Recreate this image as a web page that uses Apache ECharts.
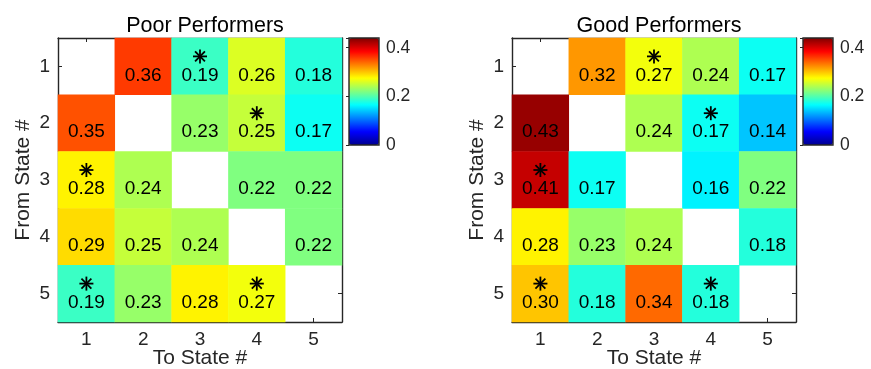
<!DOCTYPE html>
<html>
<head>
<meta charset="utf-8">
<script src="https://cdn.jsdelivr.net/npm/echarts@6/dist/echarts.min.js"></script>
<style>
  html, body { margin: 0; padding: 0; background: #fff; }
  #chart { width: 871px; height: 369px; }
</style>
</head>
<body>
<div id="chart"></div>
<script>
// Transition probabilities between states (rows: from, columns: to). Diagonal is empty.
const states = ['1', '2', '3', '4', '5'];
const poorValues = [
  [null, 0.36, 0.19, 0.26, 0.18],
  [0.35, null, 0.23, 0.25, 0.17],
  [0.28, 0.24, null, 0.22, 0.22],
  [0.29, 0.25, 0.24, null, 0.22],
  [0.19, 0.23, 0.28, 0.27, null]
];
const goodValues = [
  [null, 0.32, 0.27, 0.24, 0.17],
  [0.43, null, 0.24, 0.17, 0.14],
  [0.41, 0.17, null, 0.16, 0.22],
  [0.28, 0.23, 0.24, null, 0.18],
  [0.30, 0.18, 0.34, 0.18, null]
];
// Significant transitions marked with an asterisk: [from, to] (1-based)
const poorStars = [[1, 3], [2, 4], [3, 1], [5, 1], [5, 4]];
const goodStars = [[1, 3], [2, 4], [3, 1], [5, 1], [5, 4]];
const colorMin = 0;
const colorMax = 0.44;
const colorTicks = [0, 0.2, 0.4];
const titles = ['Poor Performers', 'Good Performers'];

const jet = ['#00008f', '#0000ff', '#0080ff', '#00ffff', '#80ff80',
             '#ffff00', '#ff8000', '#ff0000', '#800000'];
const ink = '#262626';
const font = 'Liberation Sans, Arial, Helvetica, sans-serif';

function toCells(matrix) {
  const out = [];
  matrix.forEach((row, r) => row.forEach((v, c) => {
    if (v !== null) out.push([c, r, v]);
  }));
  return out;
}
function toStars(list) {
  return list.map(([from, to]) => [to - 1, from - 1]);
}

const panels = [
  { left: 58, cbLeft: 349, values: poorValues, stars: poorStars },
  { left: 512, cbLeft: 803, values: goodValues, stars: goodStars }
];
const plotTop = 38, plotSize = 284, cbWidth = 30, cbHeight = 107;

const grid = [], xAxis = [], yAxis = [], series = [], visualMap = [], title = [];

function frameAxis(extra) {
  return Object.assign({
    type: 'category', data: states,
    axisLine: { show: true, lineStyle: { color: ink, width: 1.4 } },
    axisTick: { show: true, inside: true, length: 4, alignWithLabel: true, lineStyle: { color: ink } },
    axisLabel: { show: false },
    splitLine: { show: false }
  }, extra);
}

panels.forEach((p, i) => {
  const gi = grid.length;
  grid.push({ left: p.left, top: plotTop, width: plotSize, height: plotSize,
              containLabel: false, outerBoundsMode: 'none' });
  const gcb = grid.length;
  grid.push({ left: p.cbLeft, top: plotTop, width: cbWidth, height: cbHeight, show: true, z: 10,
              borderColor: ink, borderWidth: 1.4, backgroundColor: 'transparent',
              containLabel: false, outerBoundsMode: 'none' });

  title.push({
    text: titles[i], left: p.left + plotSize / 2, top: 10, textAlign: 'center',
    textStyle: { fontFamily: font, fontSize: 21.5, fontWeight: 'normal', color: '#000' }
  });

  const xb = xAxis.length;
  xAxis.push(frameAxis({
    gridIndex: gi, position: 'bottom',
    axisLabel: { show: true, fontFamily: font, fontSize: 19, color: ink, margin: 8 },
    name: 'To State #', nameLocation: 'middle', nameGap: 26, nameMoveOverlap: false,
    nameTextStyle: { fontFamily: font, fontSize: 21, color: ink }
  }));
  xAxis.push(frameAxis({ gridIndex: gi, position: 'top' }));
  const yl = yAxis.length;
  yAxis.push(frameAxis({
    gridIndex: gi, position: 'left', inverse: true,
    axisLabel: { show: true, fontFamily: font, fontSize: 19, color: ink, margin: 8 },
    name: 'From State #', nameLocation: 'middle', nameGap: 24, nameRotate: 90,
    nameMoveOverlap: false,
    nameTextStyle: { fontFamily: font, fontSize: 21, color: ink }
  }));
  yAxis.push(frameAxis({ gridIndex: gi, position: 'right', inverse: true }));

  // colour bar axes
  xAxis.push({ gridIndex: gcb, type: 'value', show: false, min: 0, max: 1 });
  yAxis.push({
    gridIndex: gcb, type: 'value', position: 'right', min: colorMin, max: colorMax,
    interval: 0.2,
    axisLine: { show: false },
    axisTick: { show: true, inside: true, length: 3, lineStyle: { color: ink } },
    splitLine: { show: false },
    axisLabel: {
      fontFamily: font, fontSize: 17.5, color: ink, margin: 7,
      formatter: v => (colorTicks.indexOf(v) >= 0 ? String(v) : '')
    }
  });

  const si = series.length;
  series.push({
    type: 'heatmap', xAxisIndex: xb, yAxisIndex: yl,
    data: toCells(p.values),
    label: {
      show: true, offset: [0, 9],
      formatter: d => d.value[2].toFixed(2),
      fontFamily: font, fontSize: 19, color: '#000'
    },
    emphasis: { disabled: true },
    itemStyle: { borderWidth: 0 }
  });
  series.push({
    type: 'custom', xAxisIndex: xb, yAxisIndex: yl, z: 5, silent: true,
    data: toStars(p.stars),
    renderItem: (params, api) => {
      const c = api.coord([api.value(0), api.value(1)]);
      const cx = c[0], cy = c[1] - 10, r = 7;
      const spokes = [0, 45, 90, 135].map(a => {
        const t = a * Math.PI / 180;
        return {
          type: 'line',
          shape: { x1: cx - r * Math.cos(t), y1: cy - r * Math.sin(t),
                   x2: cx + r * Math.cos(t), y2: cy + r * Math.sin(t) },
          style: { stroke: '#000', lineWidth: 1.8 }
        };
      });
      return { type: 'group', children: spokes };
    }
  });

  visualMap.push({
    type: 'continuous', seriesIndex: si, min: colorMin, max: colorMax,
    left: p.cbLeft, top: plotTop, itemWidth: cbWidth, itemHeight: cbHeight,
    padding: 0, calculable: false, hoverLink: false, show: true, z: 1,
    inRange: { color: jet }
  });
});

const chart = echarts.init(document.getElementById('chart'), null, { renderer: 'canvas' });
chart.setOption({
  animation: false,
  backgroundColor: '#fff',
  title, grid, xAxis, yAxis, series, visualMap
});
</script>
</body>
</html>
